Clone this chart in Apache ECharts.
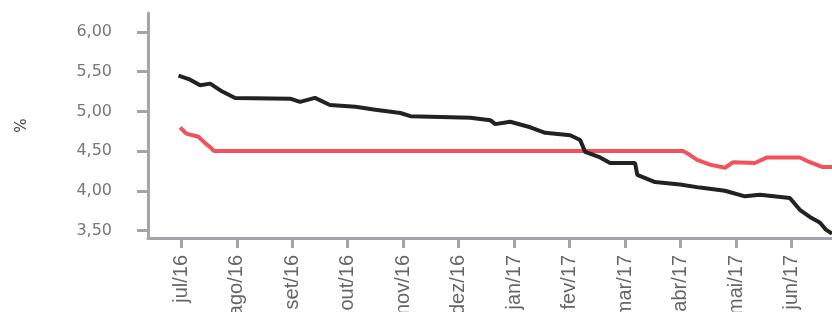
<!DOCTYPE html>
<html>
<head>
<meta charset="utf-8">
<script src="https://cdn.jsdelivr.net/npm/echarts@6/dist/echarts.min.js"></script>
<style>
	html, body { margin: 0; padding: 0; background: #fff; }
	#chart { width: 832px; height: 312px; }
</style>
</head>
<body>
<div id="chart"></div>
<script>
// month ticks (0 = jul/16)
const months = ['jul/16', 'ago/16', 'set/16', 'out/16', 'nov/16', 'dez/16',
	'jan/17', 'fev/17', 'mar/17', 'abr/17', 'mai/17', 'jun/17'];
const yTicks = [3.5, 4.0, 4.5, 5.0, 5.5, 6.0];

// black series: position in months, value in %
const blackPos = [-0.05, 0.16, 0.34, 0.52, 0.74, 0.97, 1.96, 2.14, 2.41, 2.68, 3.14, 3.50, 3.95, 4.13,
	4.67, 5.21, 5.57, 5.66, 5.93, 6.29, 6.56, 7.01, 7.19, 7.28, 7.55, 7.73, 8.18, 8.22, 8.54, 8.99,
	9.35, 9.80, 10.16, 10.43, 10.97, 11.15, 11.33, 11.51, 11.62, 11.73];
const blackVal = [5.45, 5.40, 5.33, 5.35, 5.25, 5.17, 5.16, 5.12, 5.17, 5.08, 5.06, 5.02, 4.98, 4.94,
	4.93, 4.92, 4.89, 4.84, 4.87, 4.80, 4.73, 4.70, 4.64, 4.49, 4.42, 4.35, 4.35, 4.20, 4.11, 4.08,
	4.04, 4.00, 3.93, 3.95, 3.91, 3.76, 3.67, 3.60, 3.51, 3.46];

// red series
const redPos = [-0.02, 0.09, 0.31, 0.43, 0.52, 0.59, 9.05, 9.17, 9.30, 9.53, 9.80, 9.95, 10.34,
	10.56, 11.15, 11.33, 11.55, 11.73];
const redVal = [4.80, 4.72, 4.68, 4.60, 4.55, 4.50, 4.50, 4.45, 4.39, 4.33, 4.29, 4.36, 4.35,
	4.42, 4.42, 4.36, 4.30, 4.30];

const zip = (a, b) => a.map((v, i) => [v, b[i]]);
const axisGray = '#a4a4ac';

const myChart = echarts.init(document.getElementById('chart'));
let option = {
	animation: false,
	grid: { left: 148, right: 0, top: 13, bottom: 74, outerBoundsMode: 'none' },
	xAxis: {
		type: 'value',
		min: -0.6,
		max: 11.73,
		splitLine: { show: false },
		axisLine: { onZero: false, lineStyle: { color: axisGray, width: 3 } },
		axisTick: { customValues: months.map((m, i) => i), length: 10, lineStyle: { color: axisGray, width: 3 } },
		axisLabel: {
			customValues: months.map((m, i) => i),
			formatter: v => months[Math.round(v)],
			rotate: 90,
			margin: 17,
			color: '#666',
			fontSize: 20,
			fontFamily: 'Liberation Sans, sans-serif'
		}
	},
	yAxis: {
		type: 'value',
		min: 3.405,
		max: 6.24,
		name: '%',
		nameLocation: 'middle',
		nameRotate: 90,
		nameGap: 118,
		nameTextStyle: { color: '#444', fontSize: 15, fontFamily: 'DejaVu Sans' },
		splitLine: { show: false },
		axisLine: { show: true, onZero: false, lineStyle: { color: axisGray, width: 3 } },
		axisTick: { show: true, customValues: yTicks, length: 11, lineStyle: { color: axisGray, width: 3 } },
		axisLabel: {
			customValues: yTicks,
			formatter: v => v.toFixed(2).replace('.', ','),
			margin: 36,
			color: '#777',
			fontSize: 16,
			fontFamily: 'DejaVu Sans'
		}
	},
	series: [
		{
			type: 'line',
			data: zip(redPos, redVal),
			showSymbol: false,
			lineStyle: { color: '#f2525c', width: 4 }
		},
		{
			type: 'line',
			data: zip(blackPos, blackVal),
			showSymbol: false,
			lineStyle: { color: '#222', width: 4 }
		}
	]
};
option && myChart.setOption(option);
</script>
</body>
</html>
